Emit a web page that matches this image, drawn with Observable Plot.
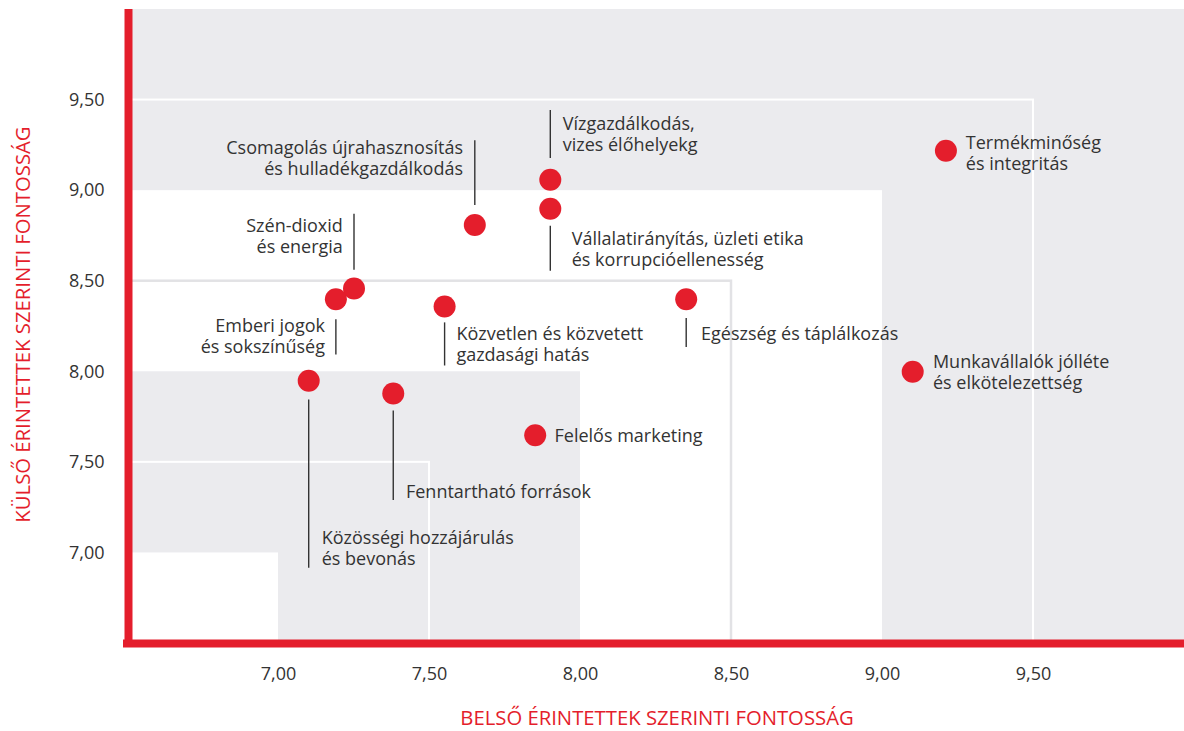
<!DOCTYPE html>
<html>
<head>
<meta charset="utf-8">
<script src="https://cdn.jsdelivr.net/npm/d3@7"></script>
<script src="https://cdn.jsdelivr.net/npm/@observablehq/plot@0.6"></script>
<style>
  html, body { margin: 0; padding: 0; background: #fff; }
  #chart svg { display: block; }
</style>
</head>
<body>
<div id="chart"></div>
<script>
// ---- data ----
const categories = [
  "Csomagolás újrahasznosítás\nés hulladékgazdálkodás",
  "Vízgazdálkodás,\nvizes élőhelyekg",
  "Vállalatirányítás, üzleti etika\nés korrupcióellenesség",
  "Szén-dioxid\nés energia",
  "Emberi jogok\nés sokszínűség",
  "Közvetlen és közvetett\ngazdasági hatás",
  "Egészség és táplálkozás",
  "Felelős marketing",
  "Fenntartható források",
  "Közösségi hozzájárulás\nés bevonás",
  "Termékminőség\nés integritás",
  "Munkavállalók jólléte\nés elkötelezettség"
];
const internalScore = [7.65, 7.90, 7.90, 7.25, 7.19, 7.55, 8.35, 7.85, 7.38, 7.10, 9.21, 9.10];
const externalScore = [8.81, 9.06, 8.90, 8.46, 8.40, 8.36, 8.40, 7.65, 7.88, 7.95, 9.22, 8.00];

// label anchor positions (data units) and side
const labelX      = [7.611, 7.941, 7.971, 7.213, 7.154, 7.589, 8.399, 7.914, 7.422, 7.143, 9.276, 9.167];
const labelY      = [9.184, 9.315, 8.679, 8.753, 8.198, 8.154, 8.210, 7.648, 7.339, 7.029, 9.209, 8.000];
const labelSide   = ["end", "start", "start", "end", "end", "start", "start", "start", "start", "start", "start", "start"];
// leader lines (data units), null = none
const leaderTop    = [9.276, 9.442, 8.803, 8.870, 8.287, 8.270, 8.294, null, 7.784, 7.844, null, null];
const leaderBottom = [8.918, 9.177, 8.555, 8.561, 8.092, 8.032, 8.134, null, 7.290, 6.915, null, null];

const tickValues = [7, 7.5, 8, 8.5, 9, 9.5];
const zoneLevels = [10, 9.5, 9, 8.5, 8, 7.5, 7];
const domainMin = 6.5, domainMax = 10;

const xTitle = "BELSŐ ÉRINTETTEK SZERINTI FONTOSSÁG";
const yTitle = "KÜLSŐ ÉRINTETTEK SZERINTI FONTOSSÁG";

// ---- build ----
const RED = "#e41e2c";
const GRAY = "#ebebee";
const TEXT = "#333333";
const FS = 18;

const points = categories.map((name, i) => ({
  name, x: internalScore[i], y: externalScore[i],
  lx: labelX[i], ly: labelY[i], side: labelSide[i],
  top: leaderTop[i], bottom: leaderBottom[i]
}));
const leaders = points.filter(d => d.top != null);

const zones = zoneLevels.map((lvl, i) => ({lvl, kind: i % 4}));
// kind 0: gray fill, 1: white outline, 2: white fill, 3: gray outline
const fmt = v => d3.format(".2f")(v).replace(".", ",");

const zoneMarks = zones.map(z => {
  const base = {x1: () => domainMin, x2: "lvl", y1: () => domainMin, y2: "lvl"};
  if (z.kind === 0) return Plot.rect([z], {...base, fill: GRAY});
  if (z.kind === 2) return Plot.rect([z], {...base, fill: "#ffffff"});
  if (z.kind === 1) return Plot.rect([z], {...base, fill: "none", stroke: "#ffffff", strokeWidth: 2});
  return Plot.rect([z], {...base, fill: "none", stroke: "#e2e2e5", strokeWidth: 2.5});
});

const chart = Plot.plot({
  width: 1184,
  height: 731,
  marginLeft: 127,
  marginRight: 0,
  marginTop: 9,
  marginBottom: 88,
  style: {fontFamily: "'Open Sans', sans-serif", fontSize: FS + "px", color: TEXT, background: "#fff"},
  x: {domain: [domainMin, domainMax], ticks: tickValues, tickFormat: fmt, label: null},
  y: {domain: [domainMin, domainMax], ticks: tickValues, tickFormat: fmt, label: null},
  marks: [
    ...zoneMarks,
    Plot.axisX({ticks: tickValues, tickFormat: fmt, tickSize: 0, tickPadding: 24, label: null, fontSize: FS}),
    Plot.axisY({ticks: tickValues, tickFormat: fmt, tickSize: 0, tickPadding: 23, label: null, fontSize: FS}),
    Plot.ruleX(leaders, {x: "x", y1: "top", y2: "bottom", stroke: TEXT, strokeWidth: 1.4}),
    Plot.dot(points, {x: "x", y: "y", r: 11, fill: RED, stroke: null}),
    Plot.text(points.filter(d => d.side === "start"), {x: "lx", y: "ly", text: "name", textAnchor: "start", lineAnchor: "middle", lineHeight: 1.17, fill: TEXT, fontSize: FS}),
    Plot.text(points.filter(d => d.side === "end"), {x: "lx", y: "ly", text: "name", textAnchor: "end", lineAnchor: "middle", lineHeight: 1.17, fill: TEXT, fontSize: FS}),
    Plot.ruleY([domainMin], {stroke: RED, strokeWidth: 8, insetLeft: -4}),
    Plot.ruleX([domainMin], {y1: domainMin, y2: domainMax, stroke: RED, strokeWidth: 8, dx: 1, insetTop: -2}),
    Plot.text([xTitle], {frameAnchor: "bottom", textAnchor: "middle", dx: 1, dy: 75, fill: RED, fontSize: 20.3, lineAnchor: "middle"}),
    Plot.text([yTitle], {frameAnchor: "left", textAnchor: "middle", dx: -104, dy: -2, rotate: -90, fill: RED, fontSize: 20.3, lineAnchor: "middle"})
  ]
});
document.getElementById("chart").appendChild(chart);
</script>
</body>
</html>
